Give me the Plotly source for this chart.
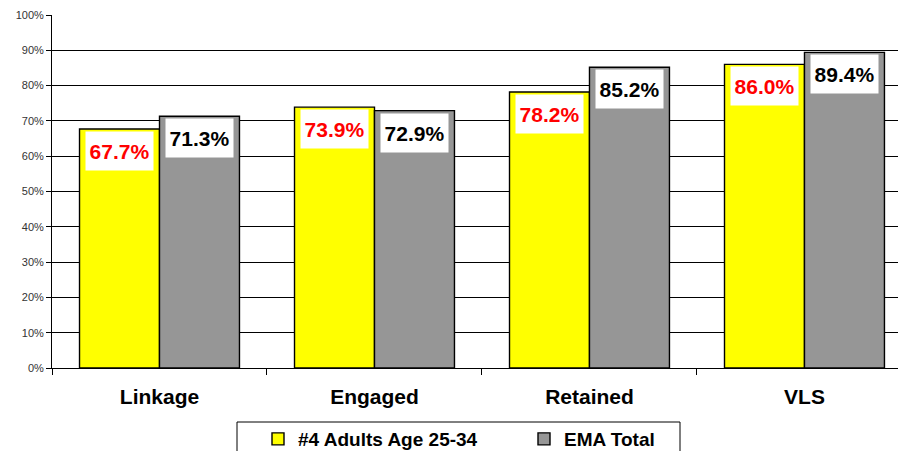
import plotly.graph_objects as go

# Care-continuum stages and percentages for each group
categories = ["Linkage", "Engaged", "Retained", "VLS"]
adults_25_34 = [67.7, 73.9, 78.2, 86.0]
ema_total = [71.3, 72.9, 85.2, 89.4]
series_names = ["#4 Adults Age 25-34", "EMA Total"]
y_ticks = [0, 10, 20, 30, 40, 50, 60, 70, 80, 90, 100]
y_tick_labels = [f"{v}%" for v in y_ticks]

FONT = "Arial, Liberation Sans, sans-serif"
W, H = 898, 451
M_L, M_R, M_T, M_B = 52, 0, 15, 83
BARGAP = 0.256

fig = go.Figure()
fig.add_trace(go.Bar(
    x=categories, y=adults_25_34, name=series_names[0],
    marker=dict(color="#FFFF00", line=dict(color="#000000", width=1.4)),
))
fig.add_trace(go.Bar(
    x=categories, y=ema_total, name=series_names[1],
    marker=dict(color="#969696", line=dict(color="#000000", width=1.4)),
))

# Value labels in white boxes just inside the top of each bar
offset = (1 - BARGAP) / 4
annotations = []
for i, (a, b) in enumerate(zip(adults_25_34, ema_total)):
    for xv, val, col in ((i - offset, a, "#FF0000"), (i + offset, b, "#000000")):
        annotations.append(dict(
            x=xv, y=val, xref="x", yref="y",
            text=f"<b>{val:.1f}%</b>", showarrow=False,
            yanchor="top", yshift=-2,
            font=dict(family=FONT, size=21, color=col),
            bgcolor="#FFFFFF", width=63, height=34, borderpad=2,
        ))

plot_w = W - M_L - M_R
plot_h = H - M_T - M_B

def px_x(px):
    return (px - M_L) / plot_w

def px_y(py):
    return (H - M_B - py) / plot_h

# Legend frame
shapes = [dict(
    type="rect", xref="paper", yref="paper",
    x0=px_x(237), x1=px_x(680), y0=px_y(422), y1=px_y(480),
    line=dict(color="#000000", width=1), fillcolor="rgba(0,0,0,0)",
    layer="below",
)]

fig.update_layout(
    width=W, height=H,
    margin=dict(l=M_L, r=M_R, t=M_T, b=M_B, autoexpand=False),
    paper_bgcolor="#FFFFFF", plot_bgcolor="#FFFFFF",
    barmode="group", bargap=BARGAP, bargroupgap=0,
    font=dict(family=FONT, color="#000000"),
    showlegend=True,
    legend=dict(
        orientation="h", x=px_x(258), xanchor="left",
        y=px_y(420), yanchor="top",
        font=dict(family=FONT, size=19, color="#000000", weight="bold"),
        entrywidth=221, entrywidthmode="pixels",
        bgcolor="rgba(0,0,0,0)", borderwidth=0,
        traceorder="normal",
    ),
    annotations=annotations,
    shapes=shapes,
    xaxis=dict(
        type="category", range=[-0.5, 3.435],
        showgrid=False, showline=True, linecolor="#000000", linewidth=1,
        ticks="outside", tickson="boundaries", ticklen=6, tickcolor="#000000",
        tickfont=dict(family=FONT, size=21, color="#000000", weight="bold"),
        ticklabelstandoff=10,
    ),
    yaxis=dict(
        range=[0, 100], tickvals=y_ticks, ticktext=y_tick_labels,
        showgrid=True, gridcolor="#000000", gridwidth=1,
        showline=True, linecolor="#000000", linewidth=1,
        ticks="outside", ticklen=5, tickcolor="#000000",
        tickfont=dict(family=FONT, size=11, color="#333333"),
        zeroline=False,
    ),
)

fig.write_html("out.html")
